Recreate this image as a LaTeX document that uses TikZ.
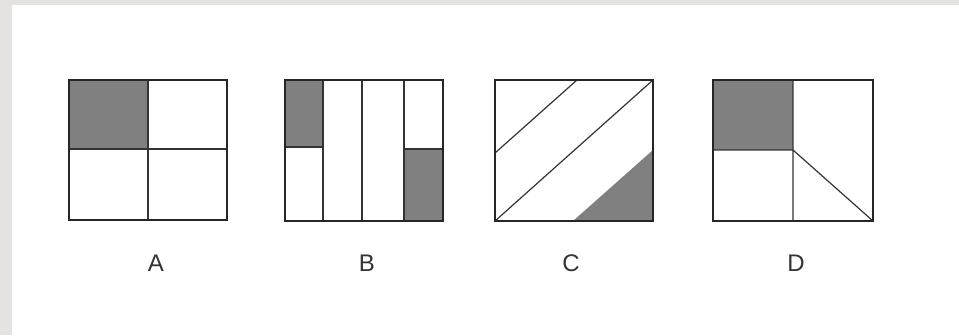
\documentclass[tikz,border=0pt]{standalone}
\usepackage{fontspec}
\setmainfont{Liberation Sans}
\usepackage{xcolor}
\usetikzlibrary{positioning}
\definecolor{framegray}{RGB}{229,227,223}
\definecolor{shadegray}{RGB}{128,128,128}

\begin{document}
\begin{tikzpicture}[x=1pt, y=-1pt,
frame/.style={draw=black!85, line width=1.8pt},
cut/.style={draw=black!80, line width=1.2pt},
dark/.style={fill=shadegray},
lbl/.style={font=\fontsize{24}{28}\selectfont, text=black!80, inner sep=0pt}]
\useasboundingbox (0,0) rectangle (959,335);
\fill[framegray] (0,0) rectangle (959,335);
\fill[white] (12,5) rectangle (959,335);
% A
\fill[dark] (69,80) rectangle (148,149);
\draw[cut] (148,80) -- (148,220) (69,149) -- (227,149);
\draw[frame] (69,80) rectangle (227,220);
\node[lbl] (labA) at (156,263) {A};
% B
\fill[dark] (285,80) rectangle (323,147);
\fill[dark] (404,149) rectangle (443,221);
\foreach \x in {323,362,404} \draw[cut] (\x,80) -- (\x,221);
\draw[cut] (285,147) -- (323,147) (404,149) -- (443,149);
\draw[frame] (285,80) rectangle (443,221);
\node[lbl] (labB) at (367,263) {B};
% C
\fill[dark] (573,221) -- (653,150) -- (653,221) -- cycle;
\draw[cut] (495,153) -- (577,80) (495,221) -- (653,80);
\draw[frame] (495,80) rectangle (653,221);
\node[lbl] (labC) at (571,263) {C};
% D
\fill[dark] (713,80) rectangle (793,150);
\draw[cut] (793,80) -- (793,221) (713,150) -- (793,150) (793,150) -- (873,221);
\draw[frame] (713,80) rectangle (873,221);
\node[lbl] (labD) at (796,263) {D};
\end{tikzpicture}
\end{document}
